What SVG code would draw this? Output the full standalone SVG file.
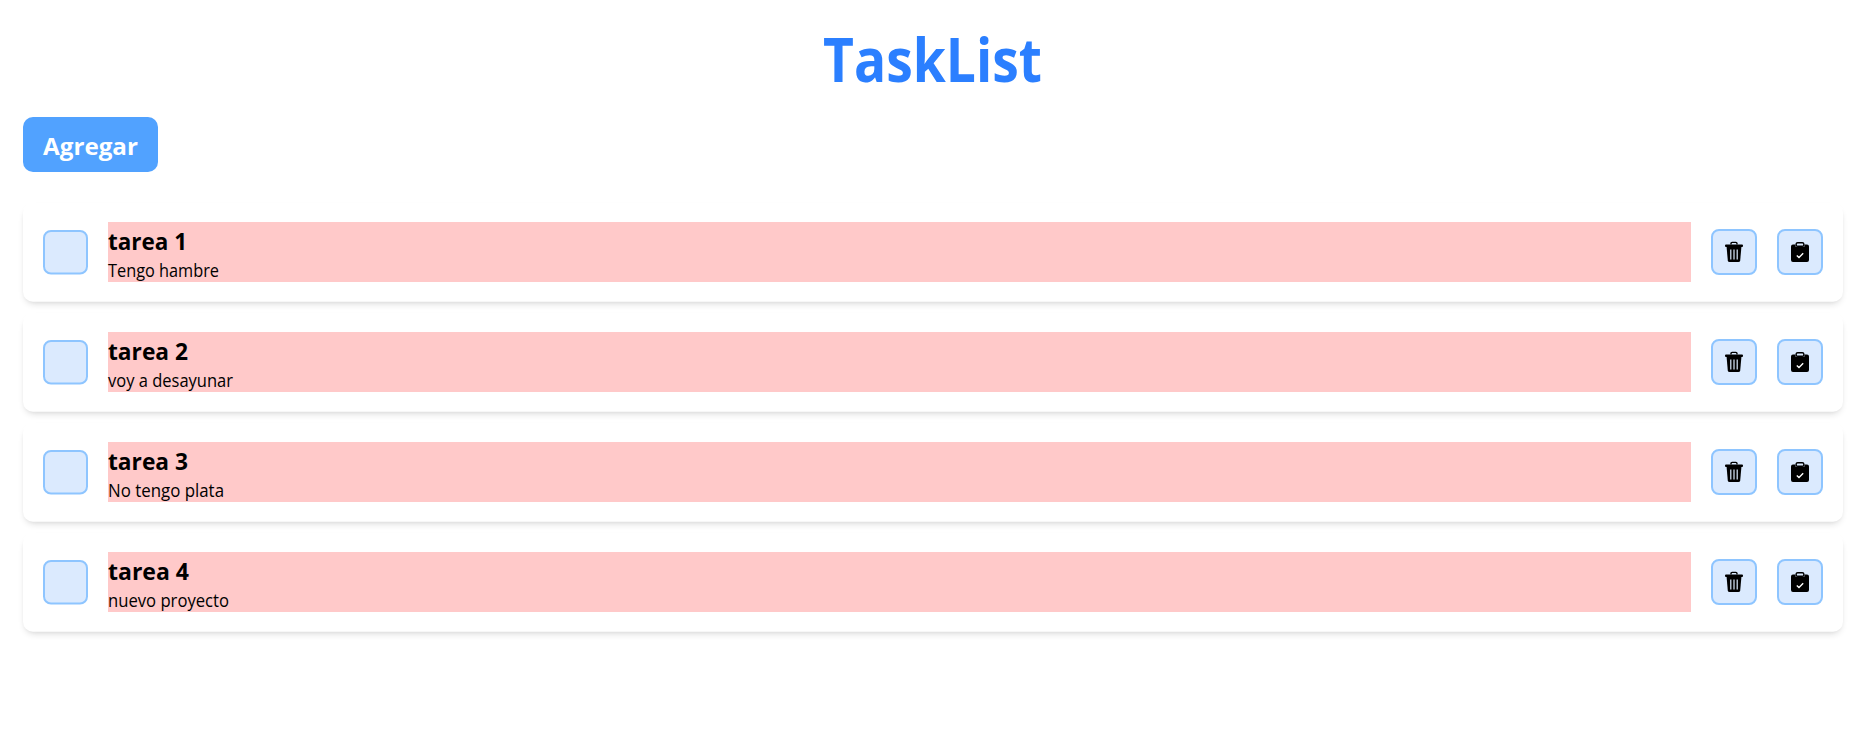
<svg xmlns="http://www.w3.org/2000/svg" width="1865" height="748" viewBox="0 0 1865 748">
<style>
text{font-family:"Open Sans","Noto Sans","Liberation Sans",sans-serif}
.title{font-size:60px;font-weight:700;fill:#2b7fff}
.btn-label{font-size:24px;font-weight:700;fill:#fff}
.name{font-size:24px;font-weight:700;fill:#000}
.desc{font-size:18px;fill:#000}
.card{fill:#fff;filter:url(#sh)}
.band{fill:#ffc9c9}
.box{fill:#dbeafe;stroke:#8ec5ff;stroke-width:2}
</style>
<defs>
<filter id="sh" x="-5%" y="-30%" width="110%" height="170%" color-interpolation-filters="sRGB">
<feMorphology in="SourceAlpha" operator="erode" radius="1" result="a"/>
<feOffset in="a" dy="4" result="a1"/>
<feGaussianBlur in="a1" stdDeviation="3" result="a2"/>
<feComponentTransfer in="a2" result="s1"><feFuncA type="linear" slope="0.1"/></feComponentTransfer>
<feMorphology in="SourceAlpha" operator="erode" radius="2" result="b"/>
<feOffset in="b" dy="2" result="b1"/>
<feGaussianBlur in="b1" stdDeviation="2" result="b2"/>
<feComponentTransfer in="b2" result="s2"><feFuncA type="linear" slope="0.1"/></feComponentTransfer>
<feMerge><feMergeNode in="s1"/><feMergeNode in="s2"/><feMergeNode in="SourceGraphic"/></feMerge>
</filter>
<g id="actions">
<rect class="box" x="1" y="1" width="44" height="44" rx="7"/>
<g transform="translate(14,13)">
<path d="M6 2.6V1.6Q6 .4 7.2 .4H10.8Q12 .4 12 1.6V2.6" fill="none" stroke="#000" stroke-width="1.4"/>
<rect x="0" y="2.6" width="18" height="2.4" rx="1" fill="#000"/>
<path d="M1.6 5H16.4L15.2 18.4Q15 20 13.4 20H4.6Q3 20 2.8 18.4Z" fill="#000"/>
<path d="M5.8 7.5V17.5M9 7.5V17.5M12.2 7.5V17.5" stroke="#dbeafe" stroke-width="1.2"/>
</g>
<rect class="box" x="67" y="1" width="44" height="44" rx="7"/>
<g transform="translate(80,13)">
<path d="M2 2.6H4.6V4.8H13.4V2.6H16Q18 2.6 18 4.6V18Q18 20 16 20H2Q0 20 0 18V4.6Q0 2.6 2 2.6Z" fill="#000"/>
<rect x="5.2" y=".7" width="7.6" height="3.6" rx="1.4" fill="none" stroke="#000" stroke-width="1.4"/>
<path d="M5.8 13.4L8 15.5L12.2 11.3" fill="none" stroke="#fff" stroke-width="1.4"/>
</g>
</g>
</defs>
<rect width="1865" height="748" fill="#fff"/>
<g id="title"><text class="title" x="932.5" y="82" text-anchor="middle" textLength="219" lengthAdjust="spacingAndGlyphs">TaskList</text></g>
<g id="add-button">
<rect x="23" y="117" width="135" height="55" rx="10" fill="#51a2ff"/>
<text class="btn-label" x="43" y="155" textLength="95" lengthAdjust="spacingAndGlyphs">Agregar</text>
</g>
<g id="task-1">
<rect class="card" x="23" y="203" width="1820" height="98.7" rx="10"/>
<rect class="box" x="44" y="231" width="43" height="42.5" rx="7"/>
<rect class="band" x="108" y="222" width="1583" height="60"/>
<text class="name" x="108" y="250" textLength="79" lengthAdjust="spacingAndGlyphs">tarea 1</text>
<text class="desc" x="108" y="277" textLength="111" lengthAdjust="spacingAndGlyphs">Tengo hambre</text>
<use href="#actions" x="1711" y="229"/>
</g>
<g id="task-2">
<rect class="card" x="23" y="313" width="1820" height="98.7" rx="10"/>
<rect class="box" x="44" y="341" width="43" height="42.5" rx="7"/>
<rect class="band" x="108" y="332" width="1583" height="60"/>
<text class="name" x="108" y="360" textLength="80" lengthAdjust="spacingAndGlyphs">tarea 2</text>
<text class="desc" x="108" y="387" textLength="125" lengthAdjust="spacingAndGlyphs">voy a desayunar</text>
<use href="#actions" x="1711" y="339"/>
</g>
<g id="task-3">
<rect class="card" x="23" y="423" width="1820" height="98.7" rx="10"/>
<rect class="box" x="44" y="451" width="43" height="42.5" rx="7"/>
<rect class="band" x="108" y="442" width="1583" height="60"/>
<text class="name" x="108" y="470" textLength="80" lengthAdjust="spacingAndGlyphs">tarea 3</text>
<text class="desc" x="108" y="497" textLength="116" lengthAdjust="spacingAndGlyphs">No tengo plata</text>
<use href="#actions" x="1711" y="449"/>
</g>
<g id="task-4">
<rect class="card" x="23" y="533" width="1820" height="98.7" rx="10"/>
<rect class="box" x="44" y="561" width="43" height="42.5" rx="7"/>
<rect class="band" x="108" y="552" width="1583" height="60"/>
<text class="name" x="108" y="580" textLength="81" lengthAdjust="spacingAndGlyphs">tarea 4</text>
<text class="desc" x="108" y="607" textLength="121" lengthAdjust="spacingAndGlyphs">nuevo proyecto</text>
<use href="#actions" x="1711" y="559"/>
</g>
</svg>
